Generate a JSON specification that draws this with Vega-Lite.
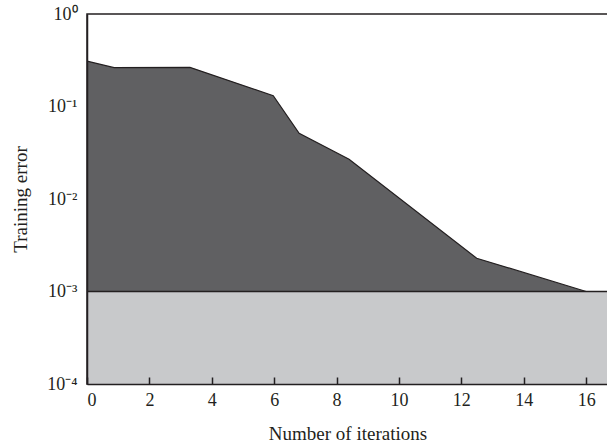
{
  "$schema": "https://vega.github.io/schema/vega-lite/v6.json",
  "width": 521,
  "height": 370,
  "autosize": {"type": "none"},
  "padding": {"left": 87, "top": 14, "right": 0, "bottom": 64},
  "background": "white",
  "config": {
    "view": {"stroke": "#231f20", "strokeWidth": 1.5},
    "font": "Liberation Serif",
    "axis": {
      "labelFont": "Liberation Serif",
      "titleFont": "Liberation Serif",
      "labelFontSize": 18,
      "titleFontSize": 19,
      "titleFontWeight": "normal",
      "labelColor": "#231f20",
      "titleColor": "#231f20",
      "domainColor": "#231f20",
      "tickColor": "#231f20",
      "grid": false
    }
  },
  "datasets": {
    "curve": [
      {"iter": 0, "err": 0.31},
      {"iter": 0.87, "err": 0.263},
      {"iter": 3.3, "err": 0.265},
      {"iter": 5.97, "err": 0.131},
      {"iter": 6.8, "err": 0.0513},
      {"iter": 8.4, "err": 0.0269},
      {"iter": 12.49, "err": 0.00229},
      {"iter": 16.0, "err": 0.001}
    ],
    "band": [
      {"x0": 0, "x1": 16.7, "lo": 0.0001, "hi": 0.001}
    ]
  },
  "layer": [
    {
      "data": {"name": "curve"},
      "mark": {"type": "area", "color": "#606062", "stroke": "#231f20", "strokeWidth": 1.2, "clip": true},
      "encoding": {
        "x": {
          "field": "iter", "type": "quantitative",
          "scale": {"domain": [0, 16.7], "nice": false, "zero": false},
          "axis": {
            "title": "Number of iterations",
            "values": [0, 2, 4, 6, 8, 10, 12, 14, 16],
            "tickSize": -7,
            "tickWidth": 1.5,
            "domainWidth": 1.5,
            "labelPadding": 14,
            "titlePadding": 15,
            "zindex": 1
          }
        },
        "y": {
          "field": "err", "type": "quantitative",
          "scale": {"type": "log", "domain": [0.0001, 1], "nice": false},
          "axis": {
            "title": "Training error",
            "values": [0.0001, 0.001, 0.01, 0.1, 1],
            "labelExpr": "'10' + ['⁻⁴','⁻³','⁻²','⁻¹','⁰'][round(log(datum.value)/LN10)+4]",
            "ticks": false,
            "domainWidth": 1.5,
            "labelPadding": 10,
            "titlePadding": 16,
            "zindex": 1
          }
        },
        "y2": {"datum": 0.001}
      }
    },
    {
      "data": {"name": "band"},
      "mark": {"type": "rect", "color": "#c8c9cb", "clip": true},
      "encoding": {
        "x": {"field": "x0", "type": "quantitative"},
        "x2": {"field": "x1"},
        "y": {"field": "lo", "type": "quantitative"},
        "y2": {"field": "hi"}
      }
    },
    {
      "data": {"name": "band"},
      "mark": {"type": "rule", "color": "#231f20", "strokeWidth": 1.5, "clip": true},
      "encoding": {
        "x": {"field": "x0", "type": "quantitative"},
        "x2": {"field": "x1"},
        "y": {"field": "hi", "type": "quantitative"}
      }
    }
  ]
}
